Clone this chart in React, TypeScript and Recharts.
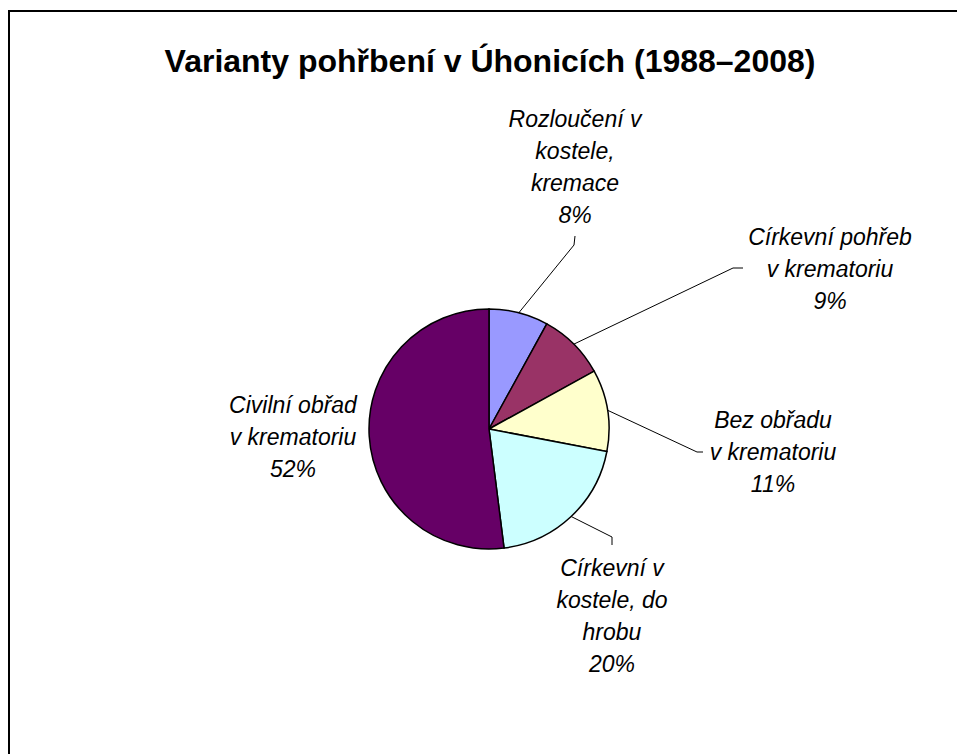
import React from "react";
import { PieChart, Pie, Cell } from "recharts";

const categories = [
  "Rozloučení v\nkostele,\nkremace",
  "Církevní pohřeb\nv krematoriu",
  "Bez obřadu\nv krematoriu",
  "Církevní v\nkostele, do\nhrobu",
  "Civilní obřad\nv krematoriu"
];
const shares = [8, 9, 11, 20, 52];
const colors = ["#9999FF", "#993366", "#FFFFCC", "#CCFFFF", "#660066"];

const data = categories.map((name, i) => ({ name, value: shares[i] }));

// label block placement (text centre x, first line y) and leader elbow points
const labelLayout = [
  { x: 575, y: 119, elbow: [[574, 245], [575, 236]] },
  { x: 830, y: 237, elbow: [[733, 268], [743, 268]] },
  { x: 773, y: 420, elbow: [[697, 452], [703, 452]] },
  { x: 612, y: 568, elbow: [[612, 537], [612, 545]] },
  { x: 293, y: 405, elbow: null }
];

const RAD = Math.PI / 180;
const LINE_H = 32;

const renderLabel = (props: any) => {
  const { cx, cy, midAngle, outerRadius, index, percent, name } = props;
  const lay = labelLayout[index];
  const lines = String(name).split("\n").concat(`${Math.round(percent * 100)}%`);
  let leader = null;
  if (lay.elbow) {
    const ex = cx + Math.cos(-midAngle * RAD) * outerRadius;
    const ey = cy + Math.sin(-midAngle * RAD) * outerRadius;
    const pts = [[ex, ey], ...lay.elbow].map((p) => p.join(",")).join(" ");
    leader = <polyline points={pts} fill="none" stroke="#000" strokeWidth={1} />;
  }
  return (
    <g key={`lbl-${index}`}>
      {leader}
      <text
        x={lay.x}
        y={lay.y}
        textAnchor="middle"
        fontFamily="'Liberation Sans', Arial, sans-serif"
        fontStyle="italic"
        fontSize={23}
        fill="#000"
      >
        {lines.map((ln, i) => (
          <tspan key={i} x={lay.x} y={lay.y + i * LINE_H} dominantBaseline="central">
            {ln}
          </tspan>
        ))}
      </text>
    </g>
  );
};

export default function App() {
  return (
    <div
      style={{
        position: "fixed",
        top: 0,
        left: 0,
        width: 957,
        height: 754,
        overflow: "hidden",
        background: "#fff"
      }}
    >
      <div
        style={{
          position: "absolute",
          left: 8,
          top: 10,
          width: 1000,
          height: 800,
          border: "2px solid #000",
          boxSizing: "border-box"
        }}
      />
      <div
        style={{
          position: "absolute",
          left: 0,
          top: 40,
          width: 980,
          textAlign: "center",
          fontFamily: "'Liberation Sans', Arial, sans-serif",
          fontWeight: 700,
          fontSize: 32,
          lineHeight: "42px",
          color: "#000"
        }}
      >
        Varianty pohřbení v Úhonicích (1988–2008)
      </div>
      <div style={{ position: "absolute", left: 0, top: 0 }}>
        <PieChart width={957} height={754} margin={{ top: 0, right: 0, bottom: 0, left: 0 }}>
          <Pie
            data={data}
            dataKey="value"
            nameKey="name"
            cx={489}
            cy={429}
            outerRadius={120}
            startAngle={90}
            endAngle={-270}
            stroke="#000"
            strokeWidth={1.5}
            labelLine={false}
            label={renderLabel}
            isAnimationActive={false}
          >
            {data.map((d, i) => (
              <Cell key={`cell-${i}`} fill={colors[i]} />
            ))}
          </Pie>
        </PieChart>
      </div>
    </div>
  );
}
